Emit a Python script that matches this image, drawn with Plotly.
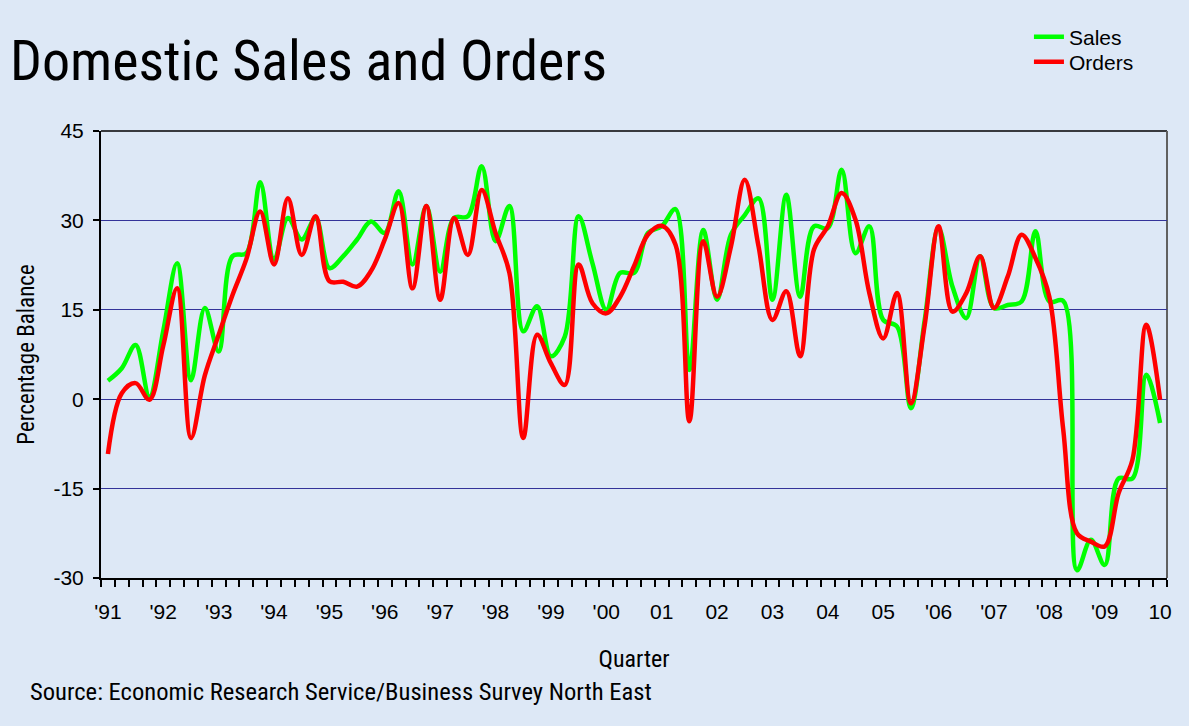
import plotly.graph_objects as go

# Quarterly data, 1991 Q1 .. 2010 Q1 (77 quarters)
sales = [3.1, 5.2, 9.1, 0.4, 11.5, 22.8, 3.2, 15.3, 8.0, 24.0,
         24.5, 36.4, 23.4, 30.4, 26.8, 30.4, 22.0, 24.0, 26.8, 29.8,
         27.9, 34.9, 22.6, 32.4, 21.4, 30.4, 30.7, 39.1, 26.5, 32.4,
         11.4, 15.6, 7.2, 10.5, 30.7, 22.8, 15.0, 21.2, 21.2, 27.9,
         29.0, 31.9, 4.9, 28.4, 16.7, 27.6, 30.9, 33.7, 16.7, 34.3,
         17.2, 29.0, 28.7, 38.5, 24.5, 29.0, 13.3, 12.2, -1.5, 13.3,
         28.7, 18.9, 13.6, 24.0, 15.3, 15.8, 16.4, 28.2, 16.4, 16.5,
         -28.7, -23.6, -27.8, -13.3, -13.3, 4.1, -4.0]

orders = [-9.2, 1.0, 2.7, -0.1, 9.0, 18.6, -6.5, 4.0, 10.8, 17.5,
          23.5, 31.5, 22.6, 33.7, 24.2, 30.7, 19.8, 19.7, 18.9, 21.5,
          26.8, 32.9, 18.6, 32.4, 16.7, 30.4, 24.2, 35.1, 27.9, 21.2,
          -6.5, 10.8, 6.0, 2.4, 22.6, 16.1, 14.4, 17.2, 22.3, 27.6,
          29.1, 25.9, -3.7, 26.5, 17.2, 25.6, 36.8, 25.6, 13.3, 18.1,
          7.2, 25.1, 29.0, 34.6, 30.1, 17.8, 10.2, 17.8, -0.7, 12.5,
          29.0, 14.7, 17.8, 24.0, 15.3, 20.6, 27.6, 23.7, 17.2, -5.0,
          -22.5, -23.9, -24.7, -15.8, -10.2, 12.5, -0.1]

year_labels = ["'91", "'92", "'93", "'94", "'95", "'96", "'97", "'98", "'99", "'00",
               "01", "02", "03", "04", "05", "'06", "'07", "'08", "'09", "10"]
y_ticks = [-30, -15, 0, 15, 30, 45]
y_tick_text = ["-30", "-15", "0", "15", "30", "45"]

x = list(range(len(sales)))
label_pos = x[::4]

BG = "#DDE8F6"
NARROW = ("Liberation Sans Narrow, Arial Narrow, Noto Sans Condensed, Roboto Condensed, "
          "DejaVu Sans Condensed, Roboto, sans-serif")
ARIAL = "Liberation Sans, Arial, sans-serif"

fig = go.Figure()
fig.add_trace(go.Scatter(x=x, y=sales, name="Sales", mode="lines", legend="legend",
                         line=dict(color="#00FF00", width=4.5, shape="spline", smoothing=1)))
fig.add_trace(go.Scatter(x=x, y=orders, name="Orders", mode="lines", legend="legend2",
                         line=dict(color="#FF0000", width=4.5, shape="spline", smoothing=1)))

legend_style = dict(xanchor="left", yanchor="middle", bgcolor="rgba(0,0,0,0)",
                    font=dict(family=ARIAL, size=21, color="black"), itemwidth=30)

fig.update_layout(
    width=1189, height=726,
    paper_bgcolor=BG, plot_bgcolor=BG,
    margin=dict(l=101, r=22, t=131, b=148, autoexpand=False),
    showlegend=True,
    legend=dict(x=0.8705, y=1.2103, **legend_style),
    legend2=dict(x=0.8705, y=1.1544, **legend_style),
    title=dict(text="Domestic Sales and Orders", x=10 / 1189, xref="container", xanchor="left",
               y=0.917, yref="container", yanchor="middle",
               font=dict(family=NARROW, size=56, color="black")),
    xaxis=dict(range=[-0.5, len(x) - 0.5], tickmode="array", tickvals=label_pos,
               ticktext=year_labels, ticks="", showgrid=False, zeroline=False,
               showline=True, linecolor="black", linewidth=2,
               tickfont=dict(family=ARIAL, size=21, color="black"),
               ticklabelstandoff=14,
               minor=dict(tickmode="linear", tick0=-0.5, dtick=1, ticks="outside",
                          ticklen=7, tickwidth=2, tickcolor="black", showgrid=False),
               title=dict(text="Quarter", font=dict(family=NARROW, size=24, color="black"),
                          standoff=28)),
    yaxis=dict(range=[-30, 45], tickmode="array", tickvals=y_ticks, ticktext=y_tick_text,
               showgrid=True, gridcolor="#333399", gridwidth=1, zeroline=False,
               showline=True, linecolor="black", linewidth=2,
               ticks="outside", ticklen=6, tickwidth=2, tickcolor="black",
               tickfont=dict(family=ARIAL, size=21, color="black"),
               ticklabelstandoff=5,
               title=dict(text="Percentage Balance", font=dict(family=NARROW, size=23, color="black"),
                          standoff=12)),
)

# plot-area frame: thin black top, grey right
fig.add_shape(type="line", xref="paper", yref="paper", x0=0, x1=1, y0=1, y1=1,
              line=dict(color="black", width=1.5), layer="below")
fig.add_shape(type="line", xref="paper", yref="paper", x0=1, x1=1, y0=0, y1=1,
              line=dict(color="#606060", width=2), layer="below")

fig.add_annotation(text="Source: Economic Research Service/Business Survey North East",
                   xref="paper", yref="paper", x=-0.0685, y=-0.255, xanchor="left", yanchor="middle",
                   showarrow=False, font=dict(family=NARROW, size=24.6, color="black"))

fig.write_html("out.html", config={"displayModeBar": False},
               post_script="document.body.style.margin='0px';"
                           "document.body.style.background='" + BG + "';")
